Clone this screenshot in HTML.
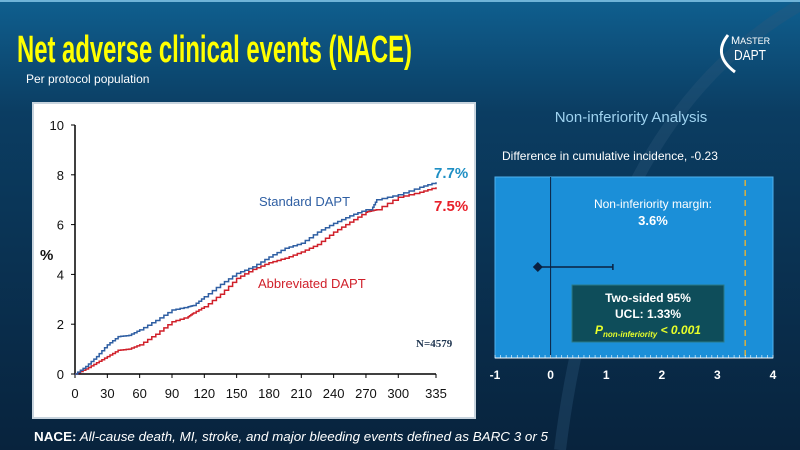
<!DOCTYPE html>
<html><head><meta charset="utf-8"><style>
html,body{margin:0;padding:0;width:800px;height:450px;overflow:hidden;background:#0a2a45}
svg{display:block;font-family:"Liberation Sans",Arial,sans-serif}
</style></head><body>
<svg id="slide" width="800" height="450" viewBox="0 0 800 450">
<defs>
<linearGradient id="bg" x1="0" y1="0" x2="0" y2="1">
<stop offset="0" stop-color="#0f5f8f"/><stop offset="0.25" stop-color="#0b3d62"/><stop offset="1" stop-color="#08233d"/>
</linearGradient>
</defs>
<rect width="800" height="450" fill="url(#bg)"/>
<path d="M560 450 Q600 120 800 5" stroke="#2d5a7c" stroke-width="12" fill="none" opacity="0.35"/>
<rect x="0" y="0" width="800" height="2" fill="#6fb3d8"/>
<text x="17" y="62" fill="#ffff00" font-size="38" font-weight="bold" textLength="395" lengthAdjust="spacingAndGlyphs">Net adverse clinical events (NACE)</text>
<text x="26" y="83" fill="#ffffff" font-size="12">Per protocol population</text>
<g>
<path d="M728 35 Q712 55 735 72" stroke="#fff" stroke-width="3" fill="none"/>
<text x="731" y="44" fill="#fff" font-size="11">M<tspan font-size="9">ASTER</tspan></text>
<text x="734" y="60" fill="#fff" font-size="15" textLength="32" lengthAdjust="spacingAndGlyphs">DAPT</text>
</g>
<rect x="33" y="103" width="442" height="315" fill="#ffffff" stroke="#c8d4de" stroke-width="2"/>
<g id="km"></g>
<text x="40" y="260" font-size="15" font-weight="bold" fill="#111">%</text>
<text x="259" y="206" font-size="13" fill="#2f5fa3">Standard DAPT</text>
<text x="258" y="288" font-size="13" fill="#d0202a">Abbreviated DAPT</text>
<text x="434" y="178" font-size="15" font-weight="bold" fill="#1e8fc4">7.7%</text>
<text x="434" y="211" font-size="15" font-weight="bold" fill="#e8202a">7.5%</text>
<text x="416" y="347" font-size="11" font-weight="bold" fill="#1f3550" font-family="Liberation Serif,serif">N=4579</text>

<text x="631" y="122" text-anchor="middle" font-size="15" fill="#9fd3f0">Non-inferiority Analysis</text>
<text x="502" y="160" font-size="12" fill="#ffffff">Difference in cumulative incidence, -0.23</text>
<rect x="495" y="177" width="278" height="181" fill="#1b8fd8" stroke="#4fb0ee"/>
<g id="ni"></g>
<text x="653" y="208" text-anchor="middle" font-size="12" fill="#fff">Non-inferiority margin:</text>
<text x="653" y="225" text-anchor="middle" font-size="13" font-weight="bold" fill="#fff">3.6%</text>
<rect x="572" y="285" width="152" height="57" fill="#0e4d5a" stroke="#2a7a88"/>
<text x="648" y="302" text-anchor="middle" font-size="12" font-weight="bold" fill="#fff">Two-sided 95%</text>
<text x="648" y="318" text-anchor="middle" font-size="12" font-weight="bold" fill="#fff">UCL: 1.33%</text>
<text x="648" y="334" text-anchor="middle" font-size="12" font-weight="bold" font-style="italic" fill="#e8ff2a">P<tspan font-size="8" dy="3">non-inferiority</tspan><tspan dy="-3"> &lt; 0.001</tspan></text>
<text x="34" y="441" font-size="13" fill="#fff" textLength="514" lengthAdjust="spacingAndGlyphs"><tspan font-weight="bold">NACE:</tspan><tspan font-style="italic"> All-cause death, MI, stroke, and major bleeding events defined as BARC 3 or 5</tspan></text>
</svg>
<script>
const days=[0,10,20,30,40,50,60,75,90,105,110,120,135,150,165,180,195,210,225,240,255,270,275,280,300,320,335];
const standardVals=[0,0.3,0.7,1.17,1.5,1.55,1.77,2.15,2.57,2.7,2.75,3.1,3.6,4.04,4.3,4.7,5.05,5.25,5.7,6.05,6.35,6.6,6.6,7.0,7.2,7.5,7.7];
const abbrevVals=[0,0.2,0.45,0.7,0.95,1.0,1.17,1.6,2.1,2.3,2.45,2.7,3.2,3.84,4.2,4.47,4.65,4.9,5.2,5.7,6.1,6.5,6.55,6.6,7.1,7.3,7.5];
const xTicks=[0,30,60,90,120,150,180,210,240,270,300,335];
const yTicks=[0,2,4,6,8,10];
const niTicks=[-1,0,1,2,3,4];
const pointEst=[-0.23];
const upperCL=[1.12];
const margin=[3.5];

const NS='http://www.w3.org/2000/svg';
function mk(p,t,a){const e=document.createElementNS(NS,t);for(const k in a)e.setAttribute(k,a[k]);p.appendChild(e);return e;}
const X=d=>75+d*(436-75)/335, Y=v=>374-v*(374-125)/10;
const km=document.getElementById('km');
let e=mk(km,'line',{x1:75,y1:125,x2:75,y2:374,stroke:'#000','stroke-width':1.5});


e=mk(km,'line',{x1:75,y1:374,x2:436,y2:374,stroke:'#000','stroke-width':1.5});


yTicks.forEach(v=>{mk(km,'line',{x1:71,x2:75,y1:Y(v),y2:Y(v),stroke:'#000'});
 const t=mk(km,'text',{x:64,y:Y(v)+5,'text-anchor':'end','font-size':13,fill:'#111'});t.textContent=v;
 
 });
xTicks.forEach(v=>{mk(km,'line',{x1:X(v),x2:X(v),y1:374,y2:378,stroke:'#000'});
 const t=mk(km,'text',{x:X(v),y:398,'text-anchor':'middle','font-size':13,fill:'#111'});t.textContent=v;
 
 });
function stepPath(vals){let d='M'+X(days[0])+' '+Y(vals[0]);
 for(let i=1;i<days.length;i++){const x0=X(days[i-1]),x1=X(days[i]),y0=Y(vals[i-1]),y1=Y(vals[i]);
  for(let k=1;k<=4;k++){const xx=x0+(x1-x0)*k/4,yy=y0+(y1-y0)*k/4;d+=' H'+xx.toFixed(1)+' V'+yy.toFixed(1);}}
 return d;}
e=mk(km,'path',{d:stepPath(abbrevVals),fill:'none',stroke:'#d0202a','stroke-width':1.5});


e=mk(km,'path',{d:stepPath(standardVals),fill:'none',stroke:'#2f5fa3','stroke-width':1.5});



const ni=document.getElementById('ni');
const NX=v=>495+(v+1)*(773-495)/5;
e=mk(ni,'line',{x1:NX(0),x2:NX(0),y1:177,y2:358,stroke:'#0a2040','stroke-width':1});


e=mk(ni,'line',{x1:NX(margin[0]),x2:NX(margin[0]),y1:180,y2:356,stroke:'#d8b040','stroke-width':1.5,'stroke-dasharray':'6,4'});


for(let v=-1;v<=4.001;v+=0.1){mk(ni,'line',{x1:NX(v),x2:NX(v),y1:355,y2:358,stroke:'#fff','stroke-width':0.6});}
mk(ni,'line',{x1:495,x2:773,y1:358,y2:358,stroke:'#fff'});
niTicks.forEach(v=>{const t=mk(ni,'text',{x:NX(v),y:379,'text-anchor':'middle','font-size':12,'font-weight':'bold',fill:'#fff'});t.textContent=v;
 
 });
const py=267;
e=mk(ni,'line',{x1:NX(pointEst[0]),x2:NX(upperCL[0]),y1:py,y2:py,stroke:'#0a2040','stroke-width':1.5});


mk(ni,'line',{x1:NX(upperCL[0]),x2:NX(upperCL[0]),y1:py-3,y2:py+3,stroke:'#0a2040','stroke-width':1.5});
const cx=NX(pointEst[0]);
e=mk(ni,'path',{d:`M${cx-5} ${py} L${cx} ${py-5} L${cx+5} ${py} L${cx} ${py+5}Z`,fill:'#0a2040'});


</script>
</body></html>
